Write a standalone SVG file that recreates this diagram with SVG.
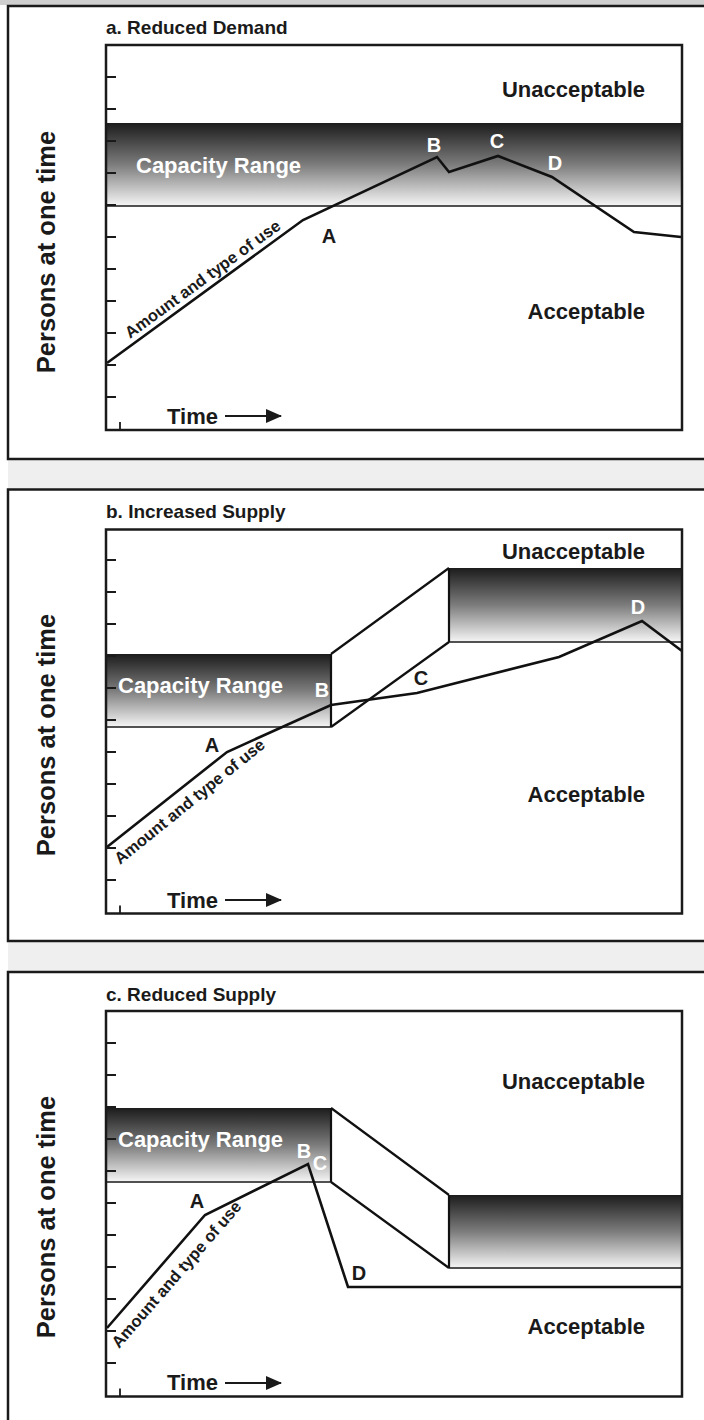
<svg xmlns="http://www.w3.org/2000/svg" width="704" height="1420" viewBox="0 0 704 1420">
  <defs>
    <linearGradient id="capGrad" x1="0" y1="0" x2="0" y2="1">
      <stop offset="0" stop-color="#1c1c1c"/>
      <stop offset="0.5" stop-color="#7c7c7c"/>
      <stop offset="1" stop-color="#f6f6f6"/>
    </linearGradient>
    <marker id="arrowHead" viewBox="0 0 16 14" refX="15" refY="7" markerWidth="16" markerHeight="14" markerUnits="userSpaceOnUse" orient="auto">
      <path d="M0 0 L16 7 L0 14 Z" fill="#1a1a1a"/>
    </marker>
  </defs>
  <style>
    .frame{fill:#fff;stroke:#1a1a1a;stroke-width:2.5}
    .box{fill:none;stroke:#1a1a1a;stroke-width:2.5}
    .band{fill:url(#capGrad)}
    .edge{stroke:#1a1a1a;stroke-width:1.6;fill:none}
    .conn{stroke:#111;stroke-width:2.2;fill:none}
    .use{stroke:#111;stroke-width:2.6;fill:none;stroke-linejoin:miter}
    .tick{stroke:#1a1a1a;stroke-width:1.8;fill:none}
    .tarrow{stroke:#1a1a1a;stroke-width:2;fill:none}
    text{font-family:"Liberation Sans",Arial,Helvetica,sans-serif;font-weight:bold;fill:#1a1a1a}
    .title{font-size:19px}
    .zone{font-size:22px;text-anchor:end}
    .cap{font-size:22px;fill:#fff}
    .pt{font-size:20px;text-anchor:middle}
    .ptw{fill:#fff}
    .ylab{font-size:25.5px;text-anchor:middle}
    .amt{font-size:16.5px}
    .time{font-size:22px}
  </style>

  <!-- page background and separators -->
  <rect x="0" y="0" width="704" height="1420" fill="#fff"/>
  <rect x="0" y="0" width="704" height="5" fill="#cfcfcf"/>
  <rect x="8" y="459" width="696" height="30" fill="#efefef"/>
  <rect x="8" y="941" width="696" height="31" fill="#efefef"/>

  <!-- a. Reduced Demand -->
  <g id="panel-a">
    <rect class="frame" x="8" y="6" width="720" height="453"/>
    <text class="title" x="106" y="34">a. Reduced Demand</text>
    <g id="a-capacity">
      <rect class="band" x="106" y="123" width="576" height="83"/>
      <path class="edge" d="M106 206 H682"/>
      <text class="cap" x="136" y="173">Capacity Range</text>
    </g>
    <g id="a-use">
      <polyline class="use" points="107,363 303,220 437,157 449,172 498,156 552,177 634,232 681,237"/>
      <text class="amt" x="130" y="339" transform="rotate(-36.1 130 339)">Amount and type of use</text>
    </g>
    <rect class="box" x="106" y="45" width="576" height="385"/>
    <path class="tick" d="M106 77h10M106 109h10M106 141h10M106 173h10M106 205h10M106 237h10M106 269h10M106 301h10M106 333h10M106 365h10M106 397h10M120 430v-8"/>
    <text class="zone" x="645" y="97">Unacceptable</text>
    <text class="zone" x="645" y="319">Acceptable</text>
    <text class="pt" x="329" y="243">A</text>
    <text class="pt ptw" x="434" y="152">B</text>
    <text class="pt ptw" x="497" y="148">C</text>
    <text class="pt ptw" x="555" y="170">D</text>
    <text class="ylab" transform="translate(55 252) rotate(-90)">Persons at one time</text>
    <text class="time" x="167" y="424">Time</text>
    <path class="tarrow" d="M225 416 H281" marker-end="url(#arrowHead)"/>
  </g>

  <!-- b. Increased Supply -->
  <g id="panel-b">
    <rect class="frame" x="8" y="489.5" width="720" height="451.5"/>
    <text class="title" x="106" y="518">b. Increased Supply</text>
    <g id="b-capacity">
      <rect class="band" x="106" y="654" width="225" height="73"/>
      <rect class="band" x="449" y="568" width="233" height="74"/>
      <path class="edge" d="M106 727 H331 M449 642 H682"/>
      <path class="conn" d="M331 654 L449 568 M331 727 L449 642 M331 654 V727 M449 568 V642"/>
      <text class="cap" x="118" y="693">Capacity Range</text>
    </g>
    <g id="b-use">
      <polyline class="use" points="107,847 227,752 331,705 417,693 559,657 642,621 682,651"/>
      <text class="amt" x="120" y="865" transform="rotate(-39 120 865)">Amount and type of use</text>
    </g>
    <rect class="box" x="106" y="529.5" width="576" height="384"/>
    <path class="tick" d="M106 560h10M106 592h10M106 624h10M106 656h10M106 688h10M106 720h10M106 752h10M106 784h10M106 816h10M106 848h10M106 880h10M120 913.5v-8"/>
    <text class="zone" x="645" y="559">Unacceptable</text>
    <text class="zone" x="645" y="802">Acceptable</text>
    <text class="pt" x="212" y="752">A</text>
    <text class="pt ptw" x="322" y="697">B</text>
    <text class="pt" x="421" y="685">C</text>
    <text class="pt ptw" x="638" y="614">D</text>
    <text class="ylab" transform="translate(55 735) rotate(-90)">Persons at one time</text>
    <text class="time" x="167" y="908">Time</text>
    <path class="tarrow" d="M225 900 H281" marker-end="url(#arrowHead)"/>
  </g>

  <!-- c. Reduced Supply -->
  <g id="panel-c">
    <rect class="frame" x="8" y="972" width="720" height="460"/>
    <text class="title" x="106" y="1001">c. Reduced Supply</text>
    <g id="c-capacity">
      <rect class="band" x="106" y="1108" width="225" height="74"/>
      <rect class="band" x="449" y="1195" width="233" height="73"/>
      <path class="edge" d="M106 1182 H331 M449 1268 H682"/>
      <path class="conn" d="M331 1108 L449 1195 M331 1182 L449 1268 M331 1108 V1182 M449 1195 V1268"/>
      <text class="cap" x="118" y="1147">Capacity Range</text>
    </g>
    <g id="c-use">
      <polyline class="use" points="107,1328 205,1215 308,1164 348,1287 682,1287"/>
      <text class="amt" x="119" y="1349" transform="rotate(-49 119 1349)">Amount and type of use</text>
    </g>
    <rect class="box" x="106" y="1011" width="576" height="385.5"/>
    <path class="tick" d="M106 1043h10M106 1075h10M106 1107h10M106 1139h10M106 1171h10M106 1203h10M106 1235h10M106 1267h10M106 1299h10M106 1331h10M106 1363h10M120 1396.5v-8"/>
    <text class="zone" x="645" y="1089">Unacceptable</text>
    <text class="zone" x="645" y="1334">Acceptable</text>
    <text class="pt" x="197" y="1208">A</text>
    <text class="pt ptw" x="304" y="1158">B</text>
    <text class="pt ptw" x="320" y="1170">C</text>
    <text class="pt" x="359" y="1280">D</text>
    <text class="ylab" transform="translate(55 1217) rotate(-90)">Persons at one time</text>
    <text class="time" x="167" y="1390">Time</text>
    <path class="tarrow" d="M225 1383 H281" marker-end="url(#arrowHead)"/>
  </g>
</svg>
